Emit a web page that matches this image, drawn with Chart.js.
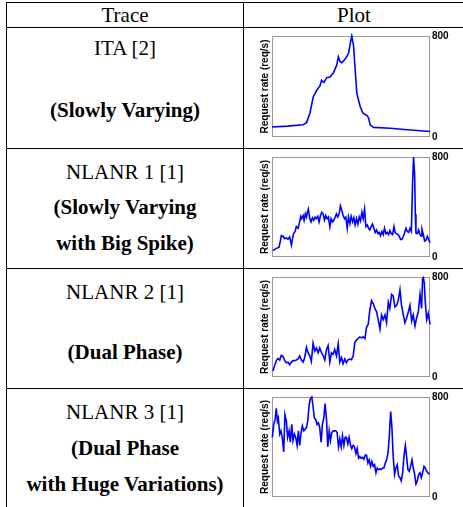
<!DOCTYPE html>
<html>
<head>
<meta charset="utf-8">
<script src="https://cdn.jsdelivr.net/npm/chart.js@4.4.1/dist/chart.umd.min.js"></script>
<style>
  html, body { margin: 0; padding: 0; background: #fff; }
  #page { position: relative; width: 463px; height: 507px; overflow: hidden; font-family: "Liberation Serif", "Times New Roman", serif; color: #000; }
  .hl { position: absolute; left: 6px; right: 0; height: 1px; background: #000; }
  .vl { position: absolute; top: 2px; bottom: 0; width: 1px; background: #000; }
  .txt { position: absolute; font-size: 21px; line-height: 24px; white-space: nowrap; transform: translate(-50%, -50%); }
  .b { font-weight: bold; }
  canvas { position: absolute; left: 252px; }
</style>
</head>
<body>
<div id="page">
  <div class="hl" style="top:2px"></div>
  <div class="hl" style="top:27px"></div>
  <div class="hl" style="top:148px"></div>
  <div class="hl" style="top:268px"></div>
  <div class="hl" style="top:388px"></div>
  <div class="vl" style="left:6px"></div>
  <div class="vl" style="left:243px"></div>

  <div class="txt" style="left:125px;top:15px">Trace</div>
  <div class="txt" style="left:354px;top:15px">Plot</div>

  <div class="txt" style="left:125px;top:48px">ITA [2]</div>
  <div class="txt b" style="left:125px;top:110px">(Slowly Varying)</div>

  <div class="txt" style="left:125px;top:172px">NLANR 1 [1]</div>
  <div class="txt b" style="left:125px;top:207px">(Slowly Varying</div>
  <div class="txt b" style="left:125px;top:243px">with Big Spike)</div>

  <div class="txt" style="left:125px;top:292px">NLANR 2 [1]</div>
  <div class="txt b" style="left:125px;top:352px">(Dual Phase)</div>

  <div class="txt" style="left:125px;top:412px">NLANR 3 [1]</div>
  <div class="txt b" style="left:125px;top:448px">(Dual Phase</div>
  <div class="txt b" style="left:125px;top:484px">with Huge Variations)</div>

  <canvas id="c1" width="211" height="119" style="top:28px"></canvas>
  <canvas id="c2" width="211" height="118" style="top:149px"></canvas>
  <canvas id="c3" width="211" height="118" style="top:269px"></canvas>
  <canvas id="c4" width="211" height="118" style="top:389px"></canvas>
</div>

<script>
// time is % of trace duration, rate is requests per second
const itaTime = [0, 10, 19.7, 21.9, 24, 26.1, 28.2, 30.4, 31.4, 32.9, 34.6, 36.7, 38.9, 41, 42, 43.1, 44.2, 46.3, 48.4, 49.5, 50.5, 51.6, 52.7, 53.7, 55.8, 57.5, 60.1, 61.1, 62.2, 64.3, 74.9, 85.6, 100];
const itaRate = [79, 86, 97, 114, 190, 317, 368, 406, 450, 432, 470, 475, 508, 571, 635, 597, 589, 617, 660, 737, 800, 724, 521, 343, 241, 190, 170, 152, 94, 76, 69, 58, 43];

const nlanr1Time = [0.6, 2.7, 4.4, 5.3, 5.9, 7.0, 8.0, 9.1, 10.1, 11.2, 12.3, 12.9, 13.7, 14.6, 15.4, 16.5, 17.5, 18.2, 18.8, 19.7,
  20.3, 21.1, 21.8, 22.4, 23.0, 23.9, 24.7, 25.6, 26.4, 27.3, 28.1, 29.0, 29.8, 30.7, 31.5, 32.3, 33.2, 34.0, 34.9, 35.7,
  36.6, 37.4, 38.3, 39.1, 40.0, 40.8, 41.6, 42.5, 43.3, 44.2, 45.0, 45.9, 46.7, 47.6, 48.4, 49.3, 50.1, 51.0, 51.8, 52.6,
  53.5, 54.3, 55.2, 56.0, 56.9, 57.7, 58.6, 59.4, 60.3, 61.1, 61.9, 62.8, 63.6, 64.5, 65.3, 66.2, 67.0, 67.9, 68.7, 69.6,
  70.4, 71.2, 72.1, 72.9, 73.8, 74.6, 75.5, 76.3, 77.2, 78.0, 78.9, 79.7, 80.5, 81.4, 82.2, 83.1, 83.9, 84.8, 85.6, 86.5,
  87.3, 88.2, 89.0, 89.6, 90.3, 90.7, 91.1, 92.0, 92.8, 93.7, 94.5, 94.9, 95.8, 96.6, 97.5, 98.3, 99.2, 100];
const nlanr1Rate = [51, 69, 77, 128, 171, 166, 146, 153, 141, 161, 95, 141, 187, 204, 243, 230, 281, 325, 307, 332,
  294, 345, 320, 358, 383, 307, 281, 314, 294, 320, 307, 325, 281, 332, 358, 345, 294, 332, 307, 320,
  243, 307, 281, 294, 320, 345, 320, 345, 409, 371, 332, 307, 320, 230, 320, 268, 325, 281, 314, 256,
  307, 263, 320, 289, 358, 307, 383, 243, 256, 230, 217, 243, 263, 230, 197, 217, 187, 197, 171, 204,
  179, 230, 187, 197, 179, 212, 187, 179, 243, 192, 187, 179, 166, 141, 141, 166, 192, 230, 204, 197,
  230, 204, 601, 800, 652, 345, 192, 187, 217, 179, 166, 222, 179, 128, 135, 166, 141, 115];

const nlanr2Time = [0.6, 1.7, 2.7, 3.8, 4.9, 5.9, 7.0, 8.0, 9.1, 10.1, 11.2, 12.3, 13.3, 14.4, 15.4, 16.5, 17.5, 18.6, 19.7, 20.7,
  21.8, 22.8, 23.9, 24.9, 26.0, 27.1, 28.1, 29.2, 30.2, 31.3, 32.3, 33.4, 34.5, 35.5, 36.6, 37.6, 38.7, 39.7, 40.8, 41.9,
  42.9, 44.0, 45.0, 46.1, 47.1, 48.2, 49.3, 50.3, 51.4, 52.4, 53.5, 54.5, 55.6, 56.7, 57.7, 58.8, 59.8, 60.9, 61.9, 63.0,
  64.1, 65.1, 66.2, 67.2, 68.3, 69.3, 70.4, 71.5, 72.5, 73.6, 74.6, 75.7, 76.7, 77.8, 78.9, 79.9, 81.0, 82.0, 83.1, 84.1,
  85.2, 86.3, 87.3, 88.4, 89.4, 90.5, 91.5, 92.6, 93.7, 94.7, 95.3, 95.8, 96.4, 97.0, 97.9, 98.9, 100];
const nlanr2Rate = [48, 93, 131, 149, 136, 174, 164, 131, 114, 119, 98, 119, 131, 131, 136, 144, 169, 136, 119, 156,
  237, 194, 169, 124, 270, 207, 232, 194, 232, 194, 174, 136, 220, 252, 119, 194, 182, 220, 169, 265,
  119, 156, 106, 144, 114, 139, 144, 139, 169, 275, 295, 308, 321, 313, 321, 308, 396, 422, 535, 611,
  586, 548, 522, 459, 384, 497, 459, 497, 434, 598, 548, 661, 649, 560, 573, 611, 699, 573, 497, 434,
  472, 522, 573, 447, 497, 409, 472, 522, 661, 548, 787, 795, 750, 598, 459, 510, 421];

const nlanr3Time = [0.2, 1.1, 1.9, 2.7, 3.4, 4.0, 4.9, 5.7, 6.6, 7.4, 8.2, 9.1, 9.9, 10.8, 11.6, 12.5, 13.3, 14.2, 15.0, 15.9,
  16.7, 17.5, 18.4, 19.2, 20.1, 20.9, 21.8, 22.6, 23.5, 24.3, 25.2, 26.0, 26.8, 27.7, 28.5, 29.4, 30.2, 31.1, 31.9, 32.8,
  33.6, 34.5, 35.3, 36.2, 37.0, 37.8, 38.7, 39.5, 40.4, 41.2, 42.1, 42.9, 43.8, 44.6, 45.5, 46.3, 47.1, 48.0, 48.8, 49.7,
  50.5, 51.4, 52.2, 53.1, 53.9, 54.8, 55.6, 56.4, 57.3, 58.1, 59.0, 59.8, 60.7, 61.5, 62.4, 63.2, 64.1, 64.9, 65.8, 66.6,
  67.4, 68.3, 69.1, 70.0, 70.8, 71.7, 72.5, 73.4, 74.2, 75.1, 75.9, 76.7, 77.6, 78.4, 79.3, 80.1, 81.0, 81.8, 82.7, 83.5,
  84.4, 85.2, 86.0, 86.9, 87.7, 88.6, 89.4, 90.3, 91.1, 92.0, 92.8, 93.7, 94.5, 95.3, 96.2, 97.0, 97.9, 98.7, 99.6];
const nlanr3Rate = [477, 581, 619, 710, 606, 632, 503, 529, 464, 361, 658, 606, 477, 529, 439, 581, 452, 503, 477, 413,
  529, 413, 516, 568, 529, 542, 555, 606, 735, 787, 800, 722, 632, 619, 581, 593, 555, 439, 581, 632,
  748, 619, 400, 529, 452, 516, 529, 529, 529, 516, 400, 464, 400, 490, 413, 477, 477, 426, 477, 413,
  387, 413, 400, 348, 387, 310, 323, 310, 317, 302, 335, 335, 271, 297, 245, 284, 245, 258, 194, 232,
  219, 224, 219, 232, 232, 271, 297, 348, 477, 684, 555, 323, 181, 232, 258, 168, 155, 129, 194, 323,
  413, 323, 219, 206, 245, 297, 232, 181, 103, 129, 181, 194, 155, 194, 245, 232, 206, 194, 181];

const yTicks = [0, 800];
const yTitle = 'Request rate (req/s)';

const boxPlugin = {
    id: 'box',
    beforeDatasetsDraw(chart) {
        const a = chart.chartArea;
        const ctx = chart.ctx;
        ctx.save();
        ctx.strokeStyle = '#9a9a9a';
        ctx.lineWidth = 1;
        ctx.strokeRect(Math.round(a.left) + 0.5, Math.round(a.top) + 0.5,
            Math.round(a.right - a.left) - 1, Math.round(a.bottom - a.top) - 1);
        ctx.restore();
    }
};

const drawTrace = (id, times, rates, padTop, padBottom) => {
    const ctx = document.getElementById(id).getContext('2d');
    return new Chart(ctx, {
        type: 'line',
        data: {
            datasets: [{
                data: times.map((t, i) => ({ x: t, y: rates[i] })),
                borderColor: '#0000ff',
                borderWidth: 1.6,
                pointRadius: 0,
                tension: 0,
                clip: 3,
                yAxisID: 'y'
            }]
        },
        options: {
            responsive: false,
            animation: false,
            layout: { padding: { top: padTop, bottom: padBottom, left: 0, right: 0 } },
            plugins: { legend: { display: false }, tooltip: { enabled: false } },
            scales: {
                x: { type: 'linear', min: 0, max: 100, display: false },
                yL: {
                    position: 'left', min: 0, max: 800,
                    grid: { display: false, drawTicks: false },
                    border: { display: false },
                    ticks: { display: false },
                    title: {
                        display: true, text: yTitle, color: '#000',
                        font: { family: 'Liberation Sans, Arial, sans-serif', size: 10, weight: 'bold' },
                        padding: { top: 7, bottom: 0 }
                    },
                    afterFit: (s) => { s.width = 20; }
                },
                y: {
                    position: 'right', min: 0, max: 800,
                    grid: { display: false, drawTicks: false },
                    border: { display: false },
                    afterBuildTicks: (s) => { s.ticks = yTicks.map(v => ({ value: v })); },
                    ticks: {
                        color: '#000', padding: 2,
                        font: { family: 'Liberation Sans, Arial, sans-serif', size: 10, weight: 'bold' }
                    },
                    afterFit: (s) => { s.width = 33; }
                }
            }
        },
        plugins: [boxPlugin]
    });
};

drawTrace('c1', itaTime, itaRate, 4, 10);
drawTrace('c2', nlanr1Time, nlanr1Rate, 3, 10);
drawTrace('c3', nlanr2Time, nlanr2Rate, 3, 10);
drawTrace('c4', nlanr3Time, nlanr3Rate, 4, 10);
</script>
</body>
</html>
